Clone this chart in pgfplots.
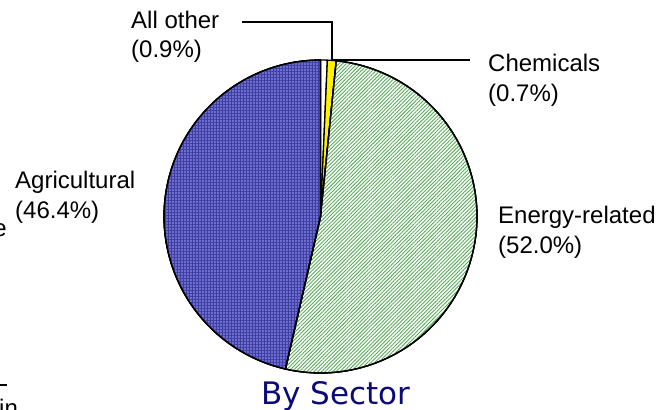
\documentclass[border=0pt]{standalone}
\usepackage{pgfplots}
\pgfplotsset{compat=1.18}
\usepackage{pgfplotstable}
\usetikzlibrary{patterns.meta}
\usepackage{fontspec}
\setmainfont{Liberation Sans}
\newfontfamily\titlefont{DejaVu Sans}

\definecolor{agriBase}{RGB}{108,108,210}
\definecolor{agriGrid}{RGB}{62,62,156}
\definecolor{energyLine}{RGB}{90,172,90}
\definecolor{titleNavy}{RGB}{10,10,120}

% shares in percent, clockwise from 12 o'clock
\pgfplotstableread{
sector share
Chemicals 0.7
Allother 0.9
Energy 52.0
Agricultural 46.4
}\piedata

\pgfplotstablegetelem{0}{share}\of\piedata \let\sA\pgfplotsretval
\pgfplotstablegetelem{1}{share}\of\piedata \let\sB\pgfplotsretval
\pgfplotstablegetelem{2}{share}\of\piedata \let\sC\pgfplotsretval
\pgfplotstablegetelem{3}{share}\of\piedata \let\sD\pgfplotsretval

\pgfmathsetmacro{\aA}{0}
\pgfmathsetmacro{\aB}{3.6*\sA}
\pgfmathsetmacro{\aC}{3.6*(\sA+\sB)}
\pgfmathsetmacro{\aD}{3.6*(\sA+\sB+\sC)}
\pgfmathsetmacro{\aE}{3.6*(\sA+\sB+\sC+\sD)}

\def\cx{320.5}
\def\cy{216.5}
\def\rr{156.5}

\begin{document}
\begin{tikzpicture}
\begin{axis}[
  at={(0,0)}, anchor=south west,
  width=663bp, height=410bp, scale only axis,
  xmin=0, xmax=663, ymin=0, ymax=410, y dir=reverse,
  hide axis, clip=false,
]
% Chemicals (white)
\addplot[draw=black, line width=1.3bp, fill=white, domain=\aA:\aB, samples=5, variable=\t, line join=round]
  ({\cx+\rr*sin(\t)},{\cy-\rr*cos(\t)}) -- (axis cs:\cx,\cy) -- cycle;
% All other (yellow)
\addplot[draw=black, line width=1.3bp, fill=yellow, domain=\aB:\aC, samples=5, variable=\t, line join=round]
  ({\cx+\rr*sin(\t)},{\cy-\rr*cos(\t)}) -- (axis cs:\cx,\cy) -- cycle;
% Energy-related (green hatching)
\addplot[draw=black, line width=1.3bp, fill=white, postaction={pattern={Lines[angle=45,distance=2.6bp,line width=0.9bp]}, pattern color=energyLine},
  domain=\aC:\aD, samples=120, variable=\t, line join=round]
  ({\cx+\rr*sin(\t)},{\cy-\rr*cos(\t)}) -- (axis cs:\cx,\cy) -- cycle;
% Agricultural (blue grid)
\addplot[draw=black, line width=1.3bp, fill=agriBase, postaction={pattern={Hatch[angle=0,distance=3bp,line width=0.9bp]}, pattern color=agriGrid},
  domain=\aD:\aE, samples=120, variable=\t, line join=round]
  ({\cx+\rr*sin(\t)},{\cy-\rr*cos(\t)}) -- (axis cs:\cx,\cy) -- cycle;
% outlines again on top
\addplot[draw=black, line width=1.3bp, domain=\aD:\aE, samples=120, variable=\t, line join=round]
  ({\cx+\rr*sin(\t)},{\cy-\rr*cos(\t)}) -- (axis cs:\cx,\cy) -- cycle;
\addplot[draw=black, line width=1.3bp, domain=\aC:\aD, samples=120, variable=\t, line join=round]
  ({\cx+\rr*sin(\t)},{\cy-\rr*cos(\t)}) -- (axis cs:\cx,\cy) -- cycle;

% leader lines
\draw[line width=1.6bp] (axis cs:242,22) -- (axis cs:332,22) -- (axis cs:332,60);
\draw[line width=1.6bp] (axis cs:333,60) -- (axis cs:470,60);

% labels
\begin{scope}[every node/.style={inner sep=0pt, font=\fontsize{24bp}{30bp}\selectfont}]
\node[anchor=base west] at (axis cs:131,28) {All other};
\node[anchor=base west] at (axis cs:131,57) {(0.9\%)};
\node[anchor=base west] at (axis cs:488,71) {Chemicals};
\node[anchor=base west] at (axis cs:488,101) {(0.7\%)};
\node[anchor=base west] at (axis cs:15,188) {Agricultural};
\node[anchor=base west] at (axis cs:15,218) {(46.4\%)};
\node[anchor=base west] at (axis cs:498,223) {Energy-related};
\node[anchor=base west] at (axis cs:498,253) {(52.0\%)};
% cut-off fragments at the left edge (as in the reference)
\node[anchor=base east] at (axis cs:7,236) {e};
\node[anchor=base west] at (axis cs:-1,416) {in};
\end{scope}
\draw[line width=1.6bp] (axis cs:-2,385) -- (axis cs:7,385);

\node[anchor=base, inner sep=0pt, text=titleNavy, font=\titlefont\fontsize{31bp}{36bp}\selectfont] at (axis cs:336,404) {By Sector};
\end{axis}
\pgfresetboundingbox
\path[use as bounding box] (0,0) rectangle (663bp,410bp);
\end{tikzpicture}
\end{document}
